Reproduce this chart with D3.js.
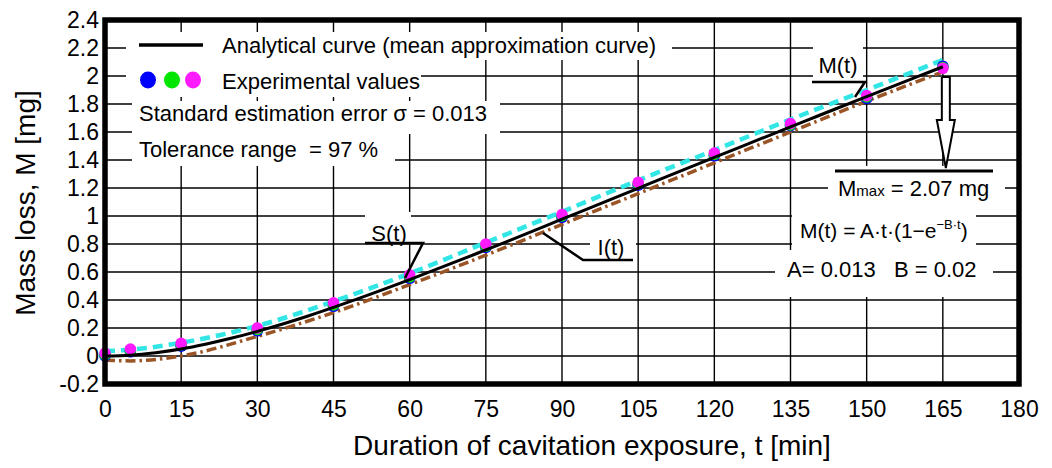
<!DOCTYPE html>
<html>
<head>
<meta charset="utf-8">
<script src="https://cdn.jsdelivr.net/npm/d3@7"></script>
<style>
body { margin: 0; background: #fff; }
text { font-family: "Liberation Sans", Arial, sans-serif; fill: #000; white-space: pre; }
</style>
</head>
<body>
<svg id="chart"></svg>
<script>
// axis ticks
var tTicks = [0, 15, 30, 45, 60, 75, 90, 105, 120, 135, 150, 165, 180];
var mTicks = [-0.2, 0, 0.2, 0.4, 0.6, 0.8, 1, 1.2, 1.4, 1.6, 1.8, 2, 2.2, 2.4];

// analytical curve M(t)
var curveT = [0, 5, 10, 15, 20, 25, 30, 35, 40, 45, 50, 60, 70, 75, 80, 90, 100, 105, 110, 120, 130, 135, 140, 150, 160, 165];
var analytical = [0, 0.006, 0.024, 0.05, 0.086, 0.128, 0.176, 0.229, 0.286, 0.347, 0.411, 0.545, 0.686, 0.758, 0.83, 0.977, 1.124, 1.198, 1.272, 1.419, 1.564, 1.637, 1.709, 1.853, 1.995, 2.066];

// upper S(t) and lower I(t) curves
var boundT = [0, 5, 15, 30, 45, 60, 75, 90, 105, 120, 135, 150, 165];
var upperS = [0.035, 0.045, 0.095, 0.215, 0.39, 0.59, 0.81, 1.03, 1.255, 1.47, 1.69, 1.9, 2.115];
var lowerI = [-0.03, -0.035, 0.0, 0.14, 0.31, 0.51, 0.72, 0.94, 1.16, 1.38, 1.6, 1.82, 2.03];

// experimental values (three samples)
var expT = [0, 5, 15, 30, 45, 60, 75, 90, 105, 120, 135, 150, 165];
var expBlue = [0.0, 0.03, 0.07, 0.18, 0.355, 0.555, 0.775, 0.99, 1.22, 1.43, 1.645, 1.84, 2.07];
var expGreen = [0.01, 0.04, 0.08, 0.19, 0.365, 0.565, 0.785, 1.0, 1.23, 1.44, 1.65, 1.85, 2.06];
var expMagenta = [0.02, 0.05, 0.09, 0.2, 0.38, 0.58, 0.8, 1.01, 1.24, 1.45, 1.66, 1.86, 2.055];

var margin = { left: 105, right: 33, top: 20, bottom: 84 };
var W = 1052, H = 468;
var width = W - margin.left - margin.right;
var height = H - margin.top - margin.bottom;

var svg = d3.select("#chart").attr("width", W).attr("height", H);

var xScale = d3.scaleLinear().domain([0, 180]).range([margin.left, margin.left + width]);
var yScale = d3.scaleLinear().domain([-0.2, 2.4]).range([margin.top + height, margin.top]);

// grid
var grid = svg.append("g");
grid.selectAll("line.v").data(tTicks).enter().append("line")
	.attr("x1", function (d) { return xScale(d); })
	.attr("x2", function (d) { return xScale(d); })
	.attr("y1", margin.top)
	.attr("y2", margin.top + height)
	.attr("stroke", "#000").attr("stroke-width", 1.4);
grid.selectAll("line.h").data(mTicks).enter().append("line")
	.attr("x1", margin.left)
	.attr("x2", margin.left + width)
	.attr("y1", function (d) { return yScale(d); })
	.attr("y2", function (d) { return yScale(d); })
	.attr("stroke", "#000").attr("stroke-width", 1.4);

// white boxes behind texts
var boxes = svg.append("g");
function box(x0, y0, x1, y1) {
	boxes.append("rect").attr("x", x0).attr("y", y0)
		.attr("width", x1 - x0).attr("height", y1 - y0).attr("fill", "#fff");
}
box(126, 32, 672, 60);
box(126, 60, 421, 97);
box(132, 101, 500, 134);
box(132, 134, 395, 166);
box(813, 40, 863, 82);
box(365, 212, 411, 243);
box(590, 226, 636, 258);
box(828, 166, 1005, 206);
box(792, 206, 976, 250);
box(775, 250, 993, 297);

// curves
var line = d3.line()
	.x(function (d) { return xScale(d[0]); })
	.y(function (d) { return yScale(d[1]); })
	.curve(d3.curveMonotoneX);

svg.append("path")
	.datum(d3.zip(boundT, lowerI))
	.attr("d", line)
	.attr("fill", "none")
	.attr("stroke", "#9a5526")
	.attr("stroke-width", 3.5)
	.attr("stroke-dasharray", "10,4,2.5,4");

svg.append("path")
	.datum(d3.zip(boundT, upperS))
	.attr("d", line)
	.attr("fill", "none")
	.attr("stroke", "#33e6e6")
	.attr("stroke-width", 4.5)
	.attr("stroke-dasharray", "10,6");

var series = [[expBlue, "#0000ff"], [expGreen, "#00e600"], [expMagenta, "#ff1aff"]];
series.forEach(function (s) {
	svg.append("g").selectAll("circle")
		.data(d3.zip(expT, s[0]))
		.enter()
		.append("circle")
		.attr("cx", function (d) { return xScale(d[0]); })
		.attr("cy", function (d) { return yScale(d[1]); })
		.attr("r", 5.8)
		.attr("fill", s[1]);
});

svg.append("path")
	.datum(d3.zip(curveT, analytical))
	.attr("d", line)
	.attr("fill", "none")
	.attr("stroke", "#000")
	.attr("stroke-width", 3);

// axes labels
var xAxis = d3.axisBottom(xScale).tickValues(tTicks).tickSize(0).tickPadding(17);
svg.append("g")
	.attr("transform", "translate(0," + (margin.top + height) + ")")
	.call(xAxis)
	.attr("font-size", 23)
	.attr("font-family", "Liberation Sans, Arial, sans-serif")
	.call(function (g) { g.select(".domain").remove(); });

var yAxis = d3.axisLeft(yScale).tickValues(mTicks).tickSize(0).tickPadding(6)
	.tickFormat(function (d) { return String(d); });
svg.append("g")
	.attr("transform", "translate(" + margin.left + ",0)")
	.call(yAxis)
	.attr("font-size", 23)
	.attr("font-family", "Liberation Sans, Arial, sans-serif")
	.call(function (g) { g.select(".domain").remove(); });

svg.append("text")
	.attr("x", margin.left + 487)
	.attr("y", 455)
	.attr("text-anchor", "middle")
	.attr("font-size", 28)
	.text("Duration of cavitation exposure, t [min]");

svg.append("text")
	.attr("transform", "translate(35,203) rotate(-90)")
	.attr("text-anchor", "middle")
	.attr("font-size", 28)
	.text("Mass loss, M [mg]");

// frame
svg.append("rect")
	.attr("x", margin.left).attr("y", margin.top)
	.attr("width", width).attr("height", height)
	.attr("fill", "none").attr("stroke", "#000").attr("stroke-width", 5.5);

// legend
svg.append("line").attr("x1", 139).attr("x2", 203).attr("y1", 45).attr("y2", 45)
	.attr("stroke", "#000").attr("stroke-width", 3.5);
svg.append("text").attr("x", 222).attr("y", 53).attr("font-size", 22)
	.text("Analytical curve (mean approximation curve)");
[["#0000ff", 148], ["#00e600", 172], ["#ff1aff", 193]].forEach(function (c) {
	svg.append("ellipse").attr("cx", c[1]).attr("cy", 80).attr("rx", 8).attr("ry", 8.5).attr("fill", c[0]);
});
svg.append("text").attr("x", 222).attr("y", 89).attr("font-size", 22).text("Experimental values");
svg.append("text").attr("x", 139).attr("y", 121).attr("font-size", 22)
	.text("Standard estimation error \u03c3 = 0.013");
svg.append("text").attr("x", 139).attr("y", 157).attr("font-size", 22)
	.text("Tolerance range  = 97 %");

// curve labels with leaders
function leader(pts) {
	svg.append("path")
		.attr("d", d3.line()(pts))
		.attr("fill", "none").attr("stroke", "#000").attr("stroke-width", 2.5);
}
svg.append("text").attr("x", 838).attr("y", 73).attr("font-size", 22).attr("text-anchor", "middle").text("M(t)");
leader([[812, 82], [865, 82], [855, 97]]);
svg.append("text").attr("x", 389).attr("y", 241).attr("font-size", 22).attr("text-anchor", "middle").text("S(t)");
leader([[365, 243], [423, 243], [405, 278]]);
svg.append("text").attr("x", 611).attr("y", 255).attr("font-size", 22).attr("text-anchor", "middle").text("I(t)");
leader([[633, 260], [583, 260], [543, 233]]);

// Mmax arrow
var ax = xScale(165) + 3;
svg.append("path")
	.attr("d", d3.line()([[ax - 4, 77], [ax + 4, 77], [ax + 4, 120], [ax + 9, 120], [ax, 168], [ax - 9, 120], [ax - 4, 120], [ax - 4, 77]]))
	.attr("fill", "#fff").attr("stroke", "#000").attr("stroke-width", 2);
svg.append("line").attr("x1", 835).attr("x2", 993).attr("y1", 171).attr("y2", 171)
	.attr("stroke", "#000").attr("stroke-width", 3);

var mm = svg.append("text").attr("x", 838).attr("y", 196).attr("font-size", 22);
mm.append("tspan").text("M");
mm.append("tspan").attr("font-size", 15).text("max");
mm.append("tspan").text(" = 2.07 mg");

var f = svg.append("text").attr("x", 800).attr("y", 238).attr("font-size", 21);
f.append("tspan").text("M(t) = A\u00b7t\u00b7(1\u2212e");
f.append("tspan").attr("font-size", 13).attr("dy", -9).text("\u2212B\u00b7t");
f.append("tspan").attr("dy", 9).text(")");

svg.append("text").attr("x", 787).attr("y", 277).attr("font-size", 22).text("A= 0.013   B = 0.02");
</script>
</body>
</html>
